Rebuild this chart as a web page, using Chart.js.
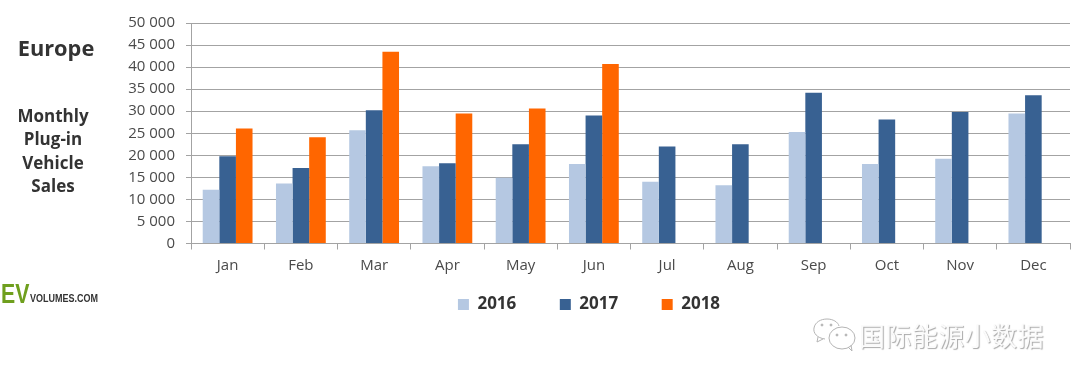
<!DOCTYPE html>
<html>
<head>
<meta charset="utf-8">
<script src="https://cdn.jsdelivr.net/npm/chart.js@4"></script>
<style>
    html, body { margin: 0; padding: 0; background: #fff; }
    #wrap { position: relative; width: 1080px; height: 382px; overflow: hidden; font-family: "Open Sans", sans-serif; }
    #wrap div, #wrap svg { position: absolute; }
    .side { color: #333; font-weight: 700; text-align: center; }
    #region { left: 6px; width: 100px; top: 33px; font-size: 21.8px; line-height: 29px; }
    #subtitle { left: 3px; width: 100px; top: 104px; font-size: 17px; line-height: 23.4px; }
    .logo { font-family: "Liberation Sans", sans-serif; font-weight: 700; white-space: nowrap; transform-origin: left top; }
    #logoEv { left: 1px; top: 278px; color: #6f9f1e; font-size: 28px; line-height: 32px; transform: scaleX(0.76); }
    #logoName { left: 30px; top: 292px; color: #333; font-size: 10px; line-height: 13px; transform: scaleX(0.9); }
    #mark { left: 859px; top: 318px; font-family: "Noto Sans CJK SC", sans-serif; font-size: 26px; line-height: 34px; color: #fbfbfb; text-shadow: 1px 1px 1px #a8a8a8; white-space: nowrap; letter-spacing: 0.4px; }
</style>
</head>
<body>
<div id="wrap">
    <canvas id="chart" width="1080" height="382"></canvas>
    <div id="region" class="side">Europe</div>
    <div id="subtitle" class="side">Monthly<br>Plug-in<br>Vehicle<br>Sales</div>
    <div id="logoEv" class="logo">EV</div>
    <div id="logoName" class="logo">VOLUMES.COM</div>
    <svg style="left:811px;top:318px" width="46" height="34" viewBox="0 0 46 34" fill="none" stroke="#b4b4b4" stroke-width="1">
        <path d="M14 21 C6 20 2 15 3 10 C4 4 10 1 16 1 C22 1 27 4 28 8"/>
        <path d="M7 19 L6 24 L12 21"/>
        <ellipse cx="31" cy="20" rx="13" ry="11"/>
        <path d="M37 29 L41 33 L40 27"/>
        <circle cx="11" cy="7" r="1" fill="#b4b4b4"/>
        <circle cx="20" cy="7" r="1" fill="#b4b4b4"/>
        <circle cx="26" cy="17" r="1" fill="#b4b4b4"/>
        <circle cx="35" cy="17" r="1" fill="#b4b4b4"/>
    </svg>
    <div id="mark">国际能源小数据</div>
</div>
<script>
const months = ['Jan', 'Feb', 'Mar', 'Apr', 'May', 'Jun', 'Jul', 'Aug', 'Sep', 'Oct', 'Nov', 'Dec'];
const sales2016 = [12200, 13600, 25700, 17500, 14900, 18000, 14000, 13200, 25300, 18000, 19200, 29500];
const sales2017 = [19800, 17100, 30200, 18200, 22500, 29000, 22000, 22500, 34200, 28100, 29800, 33600];
const sales2018 = [26100, 24100, 43500, 29500, 30600, 40700, null, null, null, null, null, null];

const textColor = '#4a4a4a';
const gridColor = '#a3a3a3';

const makeSeries = (label, data, color) => ({
    label: label,
    data: data,
    backgroundColor: color,
    categoryPercentage: 0.68,
    barPercentage: 1
});

window.onload = () => {
    const ctx = document.getElementById('chart').getContext('2d');
    new Chart(ctx, {
        type: 'bar',
        data: {
            labels: months,
            datasets: [
                makeSeries('2016', sales2016, '#b5c8e2'),
                makeSeries('2017', sales2017, '#386192'),
                makeSeries('2018', sales2018, '#ff6600')
            ]
        },
        options: {
            responsive: false,
            animation: false,
            layout: { padding: { left: 108, right: 10, top: 23, bottom: 59 } },
            scales: {
                x: {
                    afterFit: (axis) => { axis.height = 35.5; },
                    grid: { display: true, drawOnChartArea: false, color: gridColor, tickLength: 6, offset: true },
                    border: { color: gridColor },
                    ticks: { color: textColor, font: { family: 'Open Sans', size: 15 }, padding: 7 }
                },
                y: {
                    beginAtZero: true,
                    min: 0,
                    max: 50000,
                    afterFit: (axis) => { axis.width = 83; },
                    grid: { color: gridColor, tickLength: 5 },
                    border: { color: gridColor },
                    ticks: {
                        stepSize: 5000,
                        color: textColor,
                        font: { family: 'Open Sans', size: 15 },
                        padding: 11,
                        callback: (value) => String(value).replace(/\B(?=(\d{3})+$)/g, ' ')
                    }
                }
            },
            plugins: {
                tooltip: { enabled: false },
                legend: {
                    position: 'bottom',
                    labels: {
                        boxWidth: 11,
                        boxHeight: 11,
                        padding: 17,
                        color: '#333',
                        font: { family: 'Open Sans', size: 17, weight: '700' },
                        // trailing spaces widen the gap between items without adding vertical padding
                        generateLabels: (chart) => Chart.defaults.plugins.legend.labels.generateLabels(chart)
                            .map((item, i) => i < 2 ? { ...item, text: item.text + '\u00a0\u00a0\u00a0\u00a0\u00a0\u00a0' } : item)
                    }
                }
            }
        }
    });
};
</script>
</body>
</html>
